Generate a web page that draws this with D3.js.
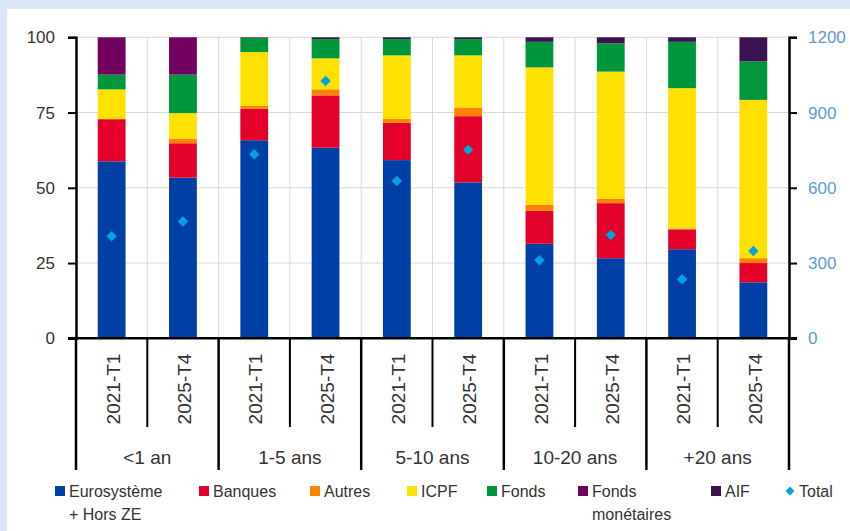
<!DOCTYPE html>
<html>
<head>
<meta charset="utf-8">
<script src="https://cdn.jsdelivr.net/npm/d3@7"></script>
<style>
  body { margin: 0; background: #dbe7f7; }
  svg { display: block; font-family: "Liberation Sans", Arial, sans-serif; }
</style>
</head>
<body>
<div id="container"></div>
<script>
/* DATA */
const groups = ["<1 an", "1-5 ans", "5-10 ans", "10-20 ans", "+20 ans"];
const periods = ["2021-T1", "2025-T4"];
const seriesNames = ["Eurosystème + Hors ZE", "Banques", "Autres", "ICPF", "Fonds", "Fonds monétaires", "AIF"];

// shares in %, one value per bar (group x period)
const eurosysteme = [58.8, 53.4, 65.8, 63.3, 59.2, 51.8, 31.4, 26.6, 29.6, 18.6];
const banques     = [14.0, 11.4, 10.5, 17.4, 12.4, 22.0, 11.0, 18.3, 6.6, 6.4];
const autres      = [0.0, 1.5, 0.9, 2.0, 1.3, 2.9, 2.0, 1.5, 0.3, 1.6];
const icpf        = [9.9, 8.5, 17.9, 10.3, 21.1, 17.3, 45.6, 42.2, 46.6, 52.6];
const fonds       = [4.9, 12.8, 4.7, 6.4, 5.4, 5.4, 8.5, 9.4, 15.4, 12.8];
const fondsMon    = [12.4, 12.4, 0.2, 0.0, 0.0, 0.0, 0.0, 0.0, 0.0, 0.0];
const aif         = [0.0, 0.0, 0.0, 0.6, 0.6, 0.6, 1.5, 2.0, 1.5, 8.0];
// right axis, total
const total = [407, 466, 734, 1026, 627, 752, 311, 412, 235, 348];

const leftTicks = [0, 25, 50, 75, 100];
const rightTicks = [0, 300, 600, 900, 1200];

const colors = ["#0040a6", "#e3002b", "#ff8200", "#ffe100", "#00963c", "#72005e", "#3d1250"];
const totalColor = "#00a2e0";

/* LAYOUT */
const width = 850, height = 531;
const plot = { left: 76, right: 789, top: 37.3, bottom: 338.3 };
const legendX = [55, 199, 310, 407, 487, 578, 711, 785];
const textColor = "#333";

const rows = [];
groups.forEach((g, gi) => periods.forEach((p, pi) => rows.push({ group: g, period: p, i: gi * 2 + pi })));
const seriesVals = [eurosysteme, banques, autres, icpf, fonds, fondsMon, aif];
const table = rows.map(r => {
  const o = { i: r.i };
  seriesNames.forEach((s, k) => o[s] = seriesVals[k][r.i]);
  return o;
});

/* SCALES */
const x = d3.scaleBand().domain(rows.map(r => r.i)).range([plot.left, plot.right]).padding(0);
const xg = d3.scaleBand().domain(groups).range([plot.left, plot.right]).padding(0);
const y = d3.scaleLinear().domain([0, 100]).range([plot.bottom, plot.top]);
const y2 = d3.scaleLinear().domain([0, 1200]).range([plot.bottom, plot.top]);
const barW = x.bandwidth() * 0.39;

const svg = d3.select("#container").append("svg")
  .attr("width", width).attr("height", height);

// white panel
svg.append("rect").attr("x", 7).attr("y", 9).attr("width", width - 7).attr("height", height - 9).attr("fill", "#fff");

// gridlines
svg.append("g").selectAll("line").data(leftTicks.slice(1)).join("line")
  .attr("x1", plot.left).attr("x2", plot.right)
  .attr("y1", d => y(d)).attr("y2", d => y(d))
  .attr("stroke", "#d9d9d9").attr("stroke-width", 1);
svg.append("g").selectAll("line").data(rows.slice(1)).join("line")
  .attr("x1", d => x(d.i)).attr("x2", d => x(d.i))
  .attr("y1", plot.top).attr("y2", plot.bottom)
  .attr("stroke", "#d9d9d9").attr("stroke-width", 1);

// stacked bars
const stack = d3.stack().keys(seriesNames)(table);
svg.append("g").selectAll("g").data(stack).join("g")
  .attr("fill", (d, k) => colors[k])
  .selectAll("rect").data(d => d).join("rect")
  .attr("x", d => x(d.data.i) + (x.bandwidth() - barW) / 2)
  .attr("width", barW)
  .attr("y", d => y(d[1]))
  .attr("height", d => y(d[0]) - y(d[1]));

// total diamonds
svg.append("g").selectAll("path").data(rows).join("path")
  .attr("d", d3.symbol(d3.symbolDiamond2, 70))
  .attr("transform", d => `translate(${x(d.i) + x.bandwidth() / 2},${y2(total[d.i])})`)
  .attr("fill", totalColor);

// left axis
const yAxis = svg.append("g").attr("transform", `translate(${plot.left},0)`)
  .call(d3.axisLeft(y).tickValues(leftTicks).tickSize(8).tickPadding(13));
yAxis.select(".domain").attr("stroke", "#000").attr("stroke-width", 2.5);
yAxis.selectAll(".tick line").attr("stroke", "#000").attr("stroke-width", 2);
yAxis.selectAll("text").attr("fill", textColor).style("font-size", "17px");

// right axis
const yAxis2 = svg.append("g").attr("transform", `translate(${plot.right},0)`)
  .call(d3.axisRight(y2).tickValues(rightTicks).tickFormat(d3.format("d")).tickSize(8).tickPadding(11));
yAxis2.select(".domain").attr("stroke", "#000").attr("stroke-width", 2.5);
yAxis2.selectAll(".tick line").attr("stroke", "#000").attr("stroke-width", 2);
yAxis2.selectAll("text").attr("fill", "#5b9bd5").style("font-size", "17px");

// x axis line
svg.append("line")
  .attr("x1", plot.left - 8).attr("x2", plot.right + 8)
  .attr("y1", plot.bottom).attr("y2", plot.bottom)
  .attr("stroke", "#000").attr("stroke-width", 2.5);

// period separators (inside groups) and group separators
svg.append("g").selectAll("line").data(rows.filter(r => r.i % 2 === 1)).join("line")
  .attr("x1", d => x(d.i)).attr("x2", d => x(d.i))
  .attr("y1", plot.bottom).attr("y2", 427)
  .attr("stroke", "#000").attr("stroke-width", 2);
svg.append("g").selectAll("line").data(groups.concat(["end"])).join("line")
  .attr("x1", (d, k) => plot.left + k * xg.bandwidth()).attr("x2", (d, k) => plot.left + k * xg.bandwidth())
  .attr("y1", plot.bottom).attr("y2", 470)
  .attr("stroke", "#000").attr("stroke-width", 2.5);

// period labels
svg.append("g").selectAll("text").data(rows).join("text")
  .attr("transform", d => `translate(${x(d.i) + x.bandwidth() / 2 + 1.5},389) rotate(-90)`)
  .attr("text-anchor", "middle").attr("dy", "0.35em")
  .attr("fill", textColor).style("font-size", "19px")
  .text(d => d.period);

// group labels
svg.append("g").selectAll("text").data(groups).join("text")
  .attr("x", d => xg(d) + xg.bandwidth() / 2).attr("y", 457)
  .attr("text-anchor", "middle").attr("dy", "0.35em")
  .attr("fill", textColor).style("font-size", "19px")
  .text(d => d);

// legend
const legendItems = seriesNames.concat(["Total"]);
const legendLines = [["Eurosystème", "+ Hors ZE"], ["Banques"], ["Autres"], ["ICPF"], ["Fonds"], ["Fonds", "monétaires"], ["AIF"], ["Total"]];
const lg = svg.append("g").selectAll("g").data(legendItems).join("g")
  .attr("transform", (d, k) => `translate(${legendX[k]},491)`);
lg.filter(d => d !== "Total").append("rect")
  .attr("x", 0).attr("y", -5).attr("width", 10).attr("height", 10)
  .attr("fill", (d, k) => colors[k]);
lg.filter(d => d === "Total").append("path")
  .attr("d", d3.symbol(d3.symbolDiamond2, 50))
  .attr("transform", "translate(5,0)")
  .attr("fill", totalColor);
lg.append("text")
  .attr("x", 14).attr("fill", textColor).style("font-size", "16px")
  .selectAll("tspan").data((d, k) => legendLines[k]).join("tspan")
  .attr("x", 14).attr("y", (d, j) => 6 + j * 23)
  .text(d => d);
</script>
</body>
</html>
